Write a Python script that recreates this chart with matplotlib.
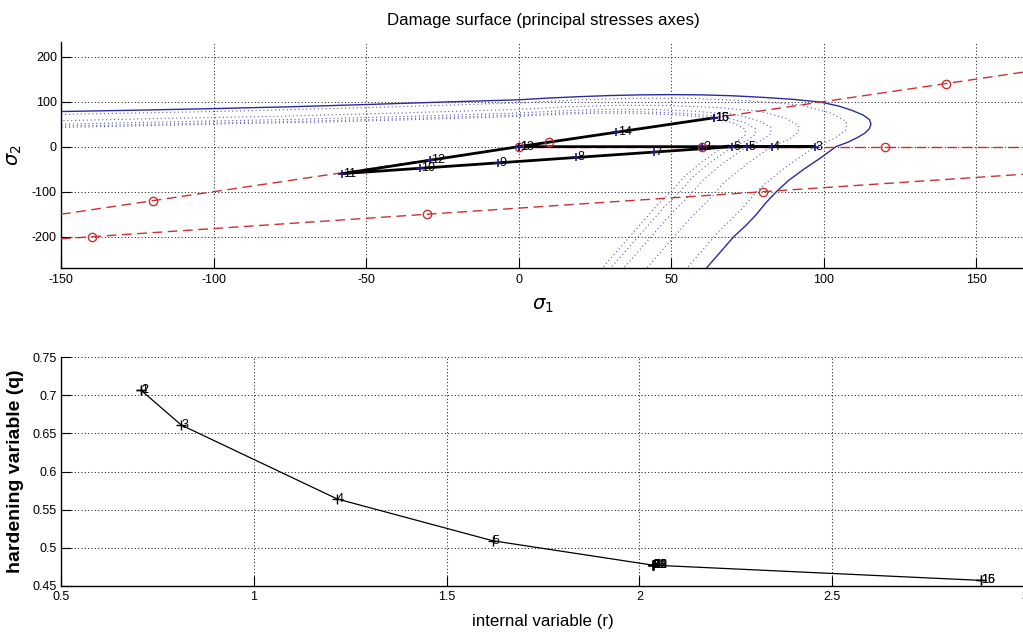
import matplotlib
matplotlib.use('Agg')
import matplotlib.pyplot as plt
from matplotlib import font_manager

names = {f.name for f in font_manager.fontManager.ttflist}
if 'Liberation Sans Narrow' in names:
    FAM, K = 'Liberation Sans Narrow', 1.05
else:
    FAM, K = 'Liberation Sans', 0.9
plt.rcParams['font.family'] = [FAM, 'DejaVu Sans']
plt.rcParams['axes.unicode_minus'] = False

# ---------------- data: top panel ----------------
# initial damage surface (solid)
surf0_x = [-200, -175, -150, -125, -100, -75, -50, -25, 0, 10, 20, 30, 40, 50, 60, 70, 80, 90, 99,
           105, 109.5, 113, 115, 115.5, 115, 113.5, 111, 108, 104, 99, 93.5, 88.5, 84.5, 81, 78,
           74.5, 70.5, 66, 61.5, 57]
surf0_y = [70.5, 74.5, 78, 81, 84.5, 88.5, 93.5, 99, 104, 108, 111, 113.5, 115, 115.5, 115, 113, 109.5,
           105, 99, 90, 80, 70, 60, 50, 40, 30, 20, 10, 0, -25, -50, -75, -100, -125, -150,
           -175, -200, -235, -270, -305]

# later (shrunk) damage surfaces (dotted)
surf3_x = [-186.8, -140.1, -93.4, -46.7, 0, 18.7, 37.4, 56.0, 74.7, 92.5, 102.3, 107.4, 107.4, 103.7,
           97.1, 87.3, 78.9, 72.9, 65.8, 57.4, 49.0]
surf3_y = [65.8, 72.9, 78.9, 87.3, 97.1, 103.7, 107.4, 107.4, 102.3, 92.5, 74.7, 56.0, 37.4, 18.7,
           0, -46.7, -93.4, -140.1, -186.8, -252.2, -317.6]

surf4_x = [-159.4, -119.6, -79.7, -39.9, 0, 15.9, 31.9, 47.8, 63.8, 78.9, 87.3, 91.7, 91.7, 88.5,
           82.9, 74.5, 67.3, 62.2, 56.2, 49.0, 41.8]
surf4_y = [56.2, 62.2, 67.3, 74.5, 82.9, 88.5, 91.7, 91.7, 87.3, 78.9, 63.8, 47.8, 31.9, 15.9,
           0, -39.9, -79.7, -119.6, -159.4, -215.2, -271.0]

surf5_x = [-194.1, -143.8, -107.9, -71.9, -36.0, 0, 14.4, 28.8, 43.1, 57.5, 71.2, 78.7, 82.7, 82.7,
           79.8, 74.8, 67.2, 60.8, 56.1, 50.7, 44.2, 37.7, 32.1]
surf5_y = [44.2, 50.7, 56.1, 60.8, 67.2, 74.8, 79.8, 82.7, 82.7, 78.7, 71.2, 57.5, 43.1, 28.8,
           14.4, 0, -36.0, -71.9, -107.9, -143.8, -194.1, -244.5, -287.6]

surf6_x = [-182.3, -135, -101.3, -67.5, -33.8, 0, 13.5, 27, 40.5, 54, 66.8, 73.9, 77.6, 77.6,
           74.9, 70.2, 63.1, 57.0, 52.7, 47.6, 41.5, 35.4, 30.1, 25.7]
surf6_y = [41.5, 47.6, 52.7, 57.0, 63.1, 70.2, 74.9, 77.6, 77.6, 73.9, 66.8, 54, 40.5, 27,
           13.5, 0, -33.8, -67.5, -101.3, -135, -182.3, -229.5, -270, -310.5]

surf16_x = [-174.4, -129.2, -96.9, -64.6, -32.3, 0, 12.9, 25.8, 38.8, 51.7, 64.0, 70.7, 74.3, 74.3,
            71.7, 67.2, 60.4, 54.6, 50.4, 45.5, 39.7, 33.9, 28.8, 24.5]
surf16_y = [39.7, 45.5, 50.4, 54.6, 60.4, 67.2, 71.7, 74.3, 74.3, 70.7, 64.0, 51.7, 38.8, 25.8,
            12.9, 0, -32.3, -64.6, -96.9, -129.2, -174.4, -219.6, -258.4, -297.2]

# loading directions (red dashed) and their marked states
dirA_x = [-150, 166]
dirA_y = [-150, 166]
dirA_mx = [-120, 10, 140]
dirA_my = [-120, 10, 140]
dirB_x = [0, 166]
dirB_y = [0, 0]
dirB_mx = [0, 60, 120]
dirB_my = [0, 0, 0]
dirC_x = [-150, 166]
dirC_y = [-204.5, -61.0]
dirC_mx = [-140, -30, 80]
dirC_my = [-200, -150, -100]

# stress path (steps 1..16)
step_s1 = [0, 60, 97, 83, 75, 70, 44.4, 18.8, -6.8, -32.4, -58, -29, 0, 32, 64, 64]
step_s2 = [0, 0, 0, 0, 0, 0, -12, -24, -36, -48, -60, -30, 0, 32, 64, 64]
step_labels = [str(i) for i in range(1, 17)]

# ---------------- data: bottom panel ----------------
r_vals = [0.707, 0.707, 0.812, 1.216, 1.62, 2.035, 2.035, 2.035, 2.035, 2.035, 2.035, 2.035,
          2.035, 2.035, 2.885, 2.885]
q_vals = [0.707, 0.707, 0.661, 0.564, 0.509, 0.477, 0.477, 0.477, 0.477, 0.477, 0.477, 0.477,
          0.477, 0.477, 0.457, 0.457]

top_xticks = [-150, -100, -50, 0, 50, 100, 150]
top_yticks = [-200, -100, 0, 100, 200]
bot_xticks = [0.5, 1, 1.5, 2, 2.5, 3]
bot_xticklabels = ['0.5', '1', '1.5', '2', '2.5', '3']
bot_yticks = [0.45, 0.5, 0.55, 0.6, 0.65, 0.7, 0.75]
bot_yticklabels = ['0.45', '0.5', '0.55', '0.6', '0.65', '0.7', '0.75']

# ---------------- figure ----------------
W, H = 1023, 633
fig = plt.figure(figsize=(W / 100, H / 100), dpi=100)
ax1 = fig.add_axes([61 / W, 1 - 268.3 / H, 964 / W, 226.6 / H])
ax2 = fig.add_axes([61 / W, 1 - 585.7 / H, 964 / W, 228.4 / H])

GRID_LS = (0, (1, 2.2))


def style(ax):
    for s in ['top', 'right']:
        ax.spines[s].set_visible(False)
    for s in ['left', 'bottom']:
        ax.spines[s].set_linewidth(1.0)
        ax.spines[s].set_color('black')
    ax.tick_params(direction='in', length=7, width=0.8, labelsize=10 * K, colors='black')
    ax.tick_params(axis='x', pad=4)
    ax.tick_params(axis='y', pad=3)
    ax.grid(True, color='#222222', linestyle=GRID_LS, linewidth=0.75)
    ax.set_axisbelow(True)


style(ax1)
style(ax2)

# top panel
BLUE = '#2b2ba0'
DBLUE = '#5a5ab0'
RED = '#c83232'
ax1.plot(surf0_x, surf0_y, color=BLUE, lw=1.0, zorder=2)
for sx, sy in [(surf3_x, surf3_y), (surf4_x, surf4_y), (surf5_x, surf5_y),
               (surf6_x, surf6_y), (surf16_x, surf16_y)]:
    ax1.plot(sx, sy, color=DBLUE, lw=0.8, linestyle=(0, (1, 2.5)), zorder=2)

for lx, ly, mx, my in [(dirA_x, dirA_y, dirA_mx, dirA_my),
                       (dirB_x, dirB_y, dirB_mx, dirB_my),
                       (dirC_x, dirC_y, dirC_mx, dirC_my)]:
    ax1.plot(lx, ly, color=RED, lw=1.0, dashes=(7, 4), zorder=3)
    ax1.plot(mx, my, linestyle='none', marker='o', ms=6, mfc='none', mec=RED, mew=1.0, zorder=5)

ax1.plot(step_s1, step_s2, color='black', lw=2.0, zorder=4)
ax1.plot(step_s1, step_s2, linestyle='none', marker='+', ms=6, mew=1.2, color='#1c1c78', zorder=6)
for x, y, t in zip(step_s1, step_s2, step_labels):
    ax1.annotate(t, (x, y), xytext=(1, 0), textcoords='offset points', ha='left', va='center',
                 fontsize=10 * K, color='black', zorder=7)

ax1.set_xlim(-150, 166)
ax1.set_ylim(-270, 233)
ax1.set_xticks(top_xticks)
ax1.set_yticks(top_yticks)
ax1.set_title('Damage surface (principal stresses axes)', fontsize=13.5 * K, pad=12)
ax1.set_xlabel(r'$\sigma_1$', fontsize=14, labelpad=8)
ax1.set_ylabel(r'$\sigma_2$', fontsize=14, labelpad=6)

# bottom panel
ax2.plot(r_vals, q_vals, color='black', lw=0.9, zorder=3)
ax2.plot(r_vals, q_vals, linestyle='none', marker='+', ms=7, mew=1.0, color='black', zorder=4)
for x, y, t in zip(r_vals, q_vals, step_labels):
    ax2.annotate(t, (x, y), xytext=(0, 0), textcoords='offset points', ha='left', va='center',
                 fontsize=10 * K, color='black', zorder=5)

ax2.set_xlim(0.5, 3.0)
ax2.set_ylim(0.45, 0.75)
ax2.set_xticks(bot_xticks)
ax2.set_xticklabels(bot_xticklabels)
ax2.set_yticks(bot_yticks)
ax2.set_yticklabels(bot_yticklabels)
ax2.set_xlabel('internal variable (r)', fontsize=13.5 * K, labelpad=8)
ax2.set_ylabel('hardening variable (q)', fontsize=14, fontweight='bold', labelpad=6)

fig.savefig('out.png', dpi=100)
